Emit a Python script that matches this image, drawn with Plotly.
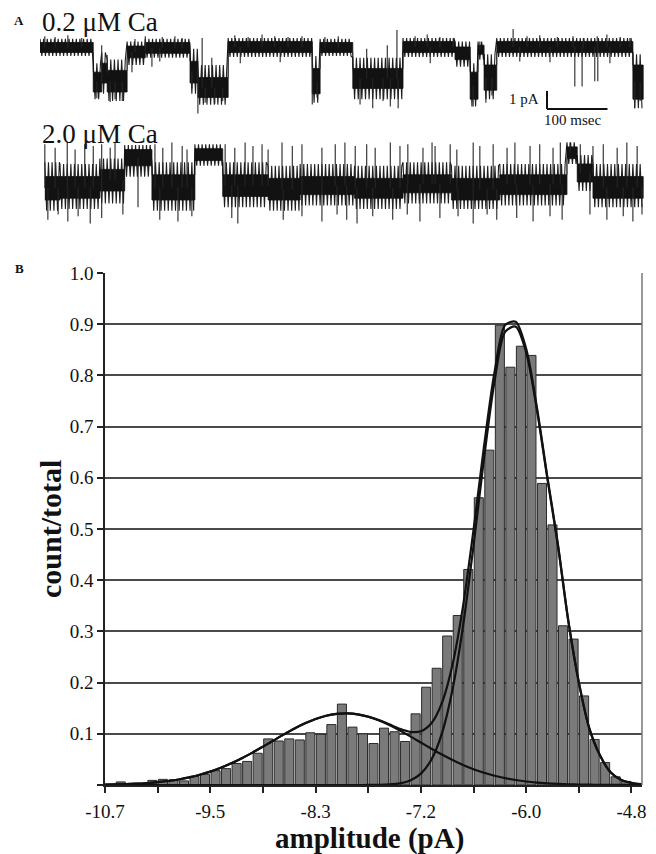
import plotly.graph_objects as go

W, H = 656, 854

# ---------------- Panel B data ----------------
BIN_START = -10.7          # pA, left edge of first bin
BIN_WIDTH = 0.12           # pA
HIST_VALUES = [0.0, 0.006, 0.003, 0.003, 0.009, 0.011, 0.010, 0.008, 0.017, 0.021,
               0.028, 0.032, 0.042, 0.046, 0.062, 0.090, 0.086, 0.090, 0.088, 0.102,
               0.099, 0.118, 0.158, 0.113, 0.100, 0.081, 0.111, 0.104, 0.085, 0.139,
               0.191, 0.228, 0.291, 0.331, 0.421, 0.561, 0.654, 0.898, 0.816, 0.857,
               0.839, 0.589, 0.508, 0.311, 0.285, 0.174, 0.089, 0.044, 0.016, 0.007,
               0.003]
# fitted component curves sampled at bin edges
FIT_LOW = [0.0007, 0.0011, 0.0017, 0.0025, 0.0038, 0.0055, 0.0078, 0.0108, 0.0148, 0.0199,
           0.0261, 0.0336, 0.0423, 0.0522, 0.0632, 0.0749, 0.0869, 0.0989, 0.1103, 0.1205,
           0.1290, 0.1353, 0.1390, 0.1400, 0.1381, 0.1334, 0.1264, 0.1173, 0.1066, 0.0950,
           0.0829, 0.0709, 0.0594, 0.0488, 0.0392, 0.0309, 0.0239, 0.0181, 0.0134, 0.0097,
           0.0069, 0.0048, 0.0033, 0.0022, 0.0014, 0.0009, 0.0006, 0.0004, 0.0002, 0.0001,
           0.0001, 0.0]
FIT_HIGH = [0.0] * 25 + [0.0001, 0.0003, 0.0011, 0.0032, 0.0089, 0.0221, 0.0496, 0.1009,
                         0.1859, 0.3098, 0.4674, 0.6383, 0.7889, 0.8850, 0.8953, 0.8450,
                         0.7350, 0.6000, 0.4700, 0.3200, 0.2000, 0.1100, 0.0580, 0.0250,
                         0.0100, 0.0040, 0.0010]
X_TICK_LABELS = ["-10.7", "-9.5", "-8.3", "-7.2", "-6.0", "-4.8"]
Y_TICK_LABELS = ["", "0.1", "0.2", "0.3", "0.4", "0.5", "0.6", "0.7", "0.8", "0.9", "1.0"]

# ---------------- Panel A data ----------------
# segments: (start ms, end ms, core high, core low, envelope high, envelope low) in pA
TRACE1_SEGMENTS = [
    (0, 88, 0.25, -0.30, 0.45, -0.50), (88, 102, -1.4, -2.5, -0.9, -2.9),
    (102, 111, -0.9, -2.0, -0.3, -2.6), (111, 144, -1.3, -2.5, -0.7, -3.0),
    (144, 174, 0.05, -0.6, 0.3, -1.0), (174, 248, 0.25, -0.35, 0.45, -0.6),
    (248, 261, -0.8, -2.0, -0.1, -2.6), (261, 311, -1.7, -2.8, -1.0, -3.2),
    (311, 450, 0.30, -0.30, 0.5, -0.55), (450, 463, -1.2, -2.6, -0.5, -3.1),
    (463, 517, 0.25, -0.30, 0.45, -0.5), (517, 600, -1.2, -2.3, -0.6, -2.9),
    (600, 686, 0.30, -0.30, 0.5, -0.55), (686, 711, 0.0, -0.7, 0.3, -1.1),
    (711, 724, -1.4, -2.9, -0.9, -3.3), (724, 734, 0.1, -0.4, 0.3, -0.7),
    (734, 755, -1.0, -2.4, -0.4, -2.9), (755, 980, 0.30, -0.30, 0.5, -0.55),
    (980, 997, -1.0, -2.9, -0.4, -3.4),
]
TRACE1_SPIKES = [
    (8, 0.6), (25, 0.55), (46, 0.65), (69, 0.5), (94, -2.85), (102, 0.1), (111, -0.45),
    (116, -3.05), (124, -2.9), (136, -3.0), (152, -1.4), (157, 0.45), (174, 0.6),
    (185, -1.1), (198, -0.8), (202, 0.55), (223, 0.6), (235, 0.5), (251, -2.3),
    (261, -3.7), (268, 0.5), (273, -3.1), (284, -0.6), (289, -3.15), (302, -3.0),
    (322, 0.65), (331, -0.9), (344, 0.55), (367, 0.7), (388, 0.6), (397, -0.85),
    (410, 0.55), (433, 0.6), (450, -3.2), (458, -2.8), (471, 0.55), (493, 0.6),
    (529, -3.2), (540, -0.1), (550, -3.4), (567, -3.0), (574, 0.1), (579, -3.3),
    (590, 0.95), (592, -3.4), (620, 0.6), (640, 0.7), (645, -0.9), (661, 0.55),
    (683, 0.5), (716, -3.3), (727, 0.3), (737, -3.1), (747, -2.7), (782, 1.0),
    (793, -0.8), (805, 0.6), (826, 0.65), (843, -0.85), (855, 0.55), (881, 0.6),
    (884, -2.2), (896, -2.2), (898, 0.5), (917, -1.9), (921, 0.6), (922, -1.9),
    (937, 0.7), (942, -0.9), (959, 0.55), (975, 0.5), (983, -3.4), (992, -3.0),
]
TRACE2_SEGMENTS = [
    (8, 33, -1.2, -2.5, -0.4, -3.1), (33, 99, -1.2, -2.4, -0.5, -3.0),
    (99, 140, -0.8, -2.0, -0.2, -2.7), (140, 185, 0.3, -0.6, 0.55, -1.2),
    (185, 256, -1.1, -2.5, -0.4, -3.1), (256, 302, 0.35, -0.3, 0.6, -0.6),
    (302, 377, -1.1, -2.3, -0.4, -2.9), (377, 430, -1.3, -2.5, -0.6, -3.1),
    (430, 520, -1.2, -2.2, -0.5, -2.8), (520, 600, -1.3, -2.4, -0.6, -3.0),
    (600, 680, -1.1, -2.1, -0.4, -2.7), (680, 760, -1.3, -2.5, -0.6, -3.0),
    (760, 871, -1.1, -2.2, -0.5, -2.8), (871, 888, 0.45, -0.2, 0.7, -0.5),
    (888, 914, -0.5, -1.5, 0.0, -2.0), (914, 997, -1.2, -2.4, -0.5, -2.9),
]
TRACE2_SPIKES = [
    (8, 0.6), (13, -3.6), (25, 0.4), (30, -3.3), (45, 0.7), (46, -3.7), (58, 0.3),
    (63, -3.4), (74, 0.6), (83, -3.8), (88, 0.5), (102, 0.6), (102, -3.5), (116, 0.4),
    (124, 0.7), (137, -3.3), (162, -2.9), (190, 0.6), (198, -3.6), (203, 0.4),
    (218, 0.7), (228, -3.7), (235, 0.5), (243, 0.3), (251, -3.4), (306, 0.6),
    (317, -3.5), (322, 0.4), (327, -3.8), (339, 0.7), (352, 0.5), (367, 0.6),
    (377, 0.3), (400, 0.7), (402, -3.6), (417, 0.5), (433, 0.6), (433, -3.4),
    (466, 0.4), (466, -3.7), (488, 0.6), (491, -3.3), (504, 0.7), (507, -3.6),
    (521, 0.5), (524, -3.8), (540, 0.6), (550, -3.4), (554, 0.4), (579, 0.7),
    (583, -3.6), (595, 0.5), (607, -3.3), (608, 0.6), (628, -3.7), (633, 0.4),
    (648, 0.7), (653, 0.5), (661, -3.5), (678, 0.6), (689, 0.3), (691, -3.4),
    (716, 0.7), (716, -3.8), (727, 0.5), (739, -3.3), (749, 0.6), (755, -3.6),
    (772, 0.4), (785, 0.7), (788, -3.5), (810, 0.5), (815, -3.7), (826, 0.6),
    (843, -3.4), (848, 0.4), (860, 0.7), (863, -3.6), (876, 0.7), (893, 0.6),
    (909, -3.3), (914, 0.5), (931, 0.6), (937, -3.6), (954, 0.4), (964, -3.4),
    (970, 0.7), (980, -3.7), (987, 0.5), (995, -3.3),
]
TRACE_LABELS = ["0.2 μM Ca", "2.0 μM Ca"]
SCALE_BAR = dict(t0=838, dt=100, top=-2.44, dpA=1.0)


def px_x(p):
    return p / W


def px_y(p):
    return 1 - p / H


def band_polygon(segs):
    xs, ys = [], []
    for s in segs:
        xs += [s[0], s[1]]
        ys += [s[2], s[2]]
    for s in reversed(segs):
        xs += [s[1], s[0]]
        ys += [s[3], s[3]]
    return xs, ys


def hatch_path(segs, step=3.0):
    xs, ys = [], []
    for (t0, t1, chi, clo, ehi, elo) in segs:
        t, k = t0, 0
        while t < t1:
            xs.append(t)
            ys.append(ehi if k % 2 == 0 else elo)
            t += step
            k += 1
    return xs, ys


def spike_path(segs, spikes):
    xs, ys = [], []
    for (t, v) in spikes:
        base = None
        for s in segs:
            if s[0] <= t <= s[1]:
                base = (s[2] + s[3]) / 2
                break
        if base is None:
            continue
        xs += [t, t, None]
        ys += [base, v, None]
    return xs, ys


fig = go.Figure()

# ---- Panel A traces ----
for segs, spikes, yax in [(TRACE1_SEGMENTS, TRACE1_SPIKES, "y2"),
                          (TRACE2_SEGMENTS, TRACE2_SPIKES, "y3")]:
    hx, hy = hatch_path(segs)
    fig.add_trace(go.Scatter(x=hx, y=hy, mode="lines", xaxis="x2", yaxis=yax,
                             line=dict(color="#1e1e1e", width=1.1, simplify=False),
                             hoverinfo="skip", showlegend=False))
    bx, by = band_polygon(segs)
    fig.add_trace(go.Scatter(x=bx, y=by, mode="lines", xaxis="x2", yaxis=yax,
                             fill="toself", fillcolor="#121212",
                             line=dict(color="#121212", width=0.8),
                             hoverinfo="skip", showlegend=False))
    sx, sy = spike_path(segs, spikes)
    fig.add_trace(go.Scatter(x=sx, y=sy, mode="lines", xaxis="x2", yaxis=yax,
                             line=dict(color="#262626", width=1.1, simplify=False),
                             hoverinfo="skip", showlegend=False))

# ---- Panel B histogram ----
centers = [BIN_START + BIN_WIDTH * (i + 0.5) for i in range(len(HIST_VALUES))]
edges = [BIN_START + BIN_WIDTH * k for k in range(len(FIT_LOW))]
fig.add_trace(go.Bar(x=centers, y=HIST_VALUES, width=BIN_WIDTH * 0.86,
                     marker=dict(color="#7a7a7a", line=dict(color="#2a2a2a", width=1)),
                     showlegend=False))
fit_sum = [a + b for a, b in zip(FIT_LOW, FIT_HIGH)]
for ys in (FIT_LOW, FIT_HIGH, fit_sum):
    fig.add_trace(go.Scatter(x=edges, y=ys, mode="lines",
                             line=dict(color="#111111", width=2.2, shape="spline", smoothing=0.8),
                             showlegend=False, hoverinfo="skip"))

tickvals_x = [BIN_START + 0.6 * k for k in range(11)]
ticktext_x = [X_TICK_LABELS[k // 2] if k % 2 == 0 else "" for k in range(11)]

serif = "Liberation Serif, Times New Roman, serif"

fig.update_layout(
    width=W, height=H,
    margin=dict(l=0, r=0, t=0, b=0, autoexpand=False),
    paper_bgcolor="white", plot_bgcolor="white",
    font=dict(family=serif, color="#111111"),
    xaxis=dict(domain=[px_x(105), px_x(642)], automargin=False,
               range=[BIN_START, BIN_START + BIN_WIDTH * 51],
               tickmode="array", tickvals=tickvals_x, ticktext=ticktext_x,
               ticks="outside", ticklen=6, tickwidth=1.5, tickcolor="#222",
               showline=True, linecolor="#222", linewidth=1.5, mirror=False,
               showgrid=False, zeroline=False, ticklabelstandoff=2,
               tickfont=dict(size=19, family=serif, color="#111")),
    yaxis=dict(domain=[px_y(785), px_y(273)], range=[0, 1.0], automargin=False,
               tickmode="array", tickvals=[i / 10 for i in range(11)], ticktext=Y_TICK_LABELS,
               ticks="outside", ticklen=6, tickwidth=1.5, tickcolor="#222",
               showline=True, linecolor="#222", linewidth=1.5, mirror=False,
               showgrid=True, gridcolor="#4a4a4a", gridwidth=1.5, zeroline=False,
               tickfont=dict(size=19, family=serif, color="#111")),
    xaxis2=dict(domain=[px_x(40), px_x(645)], range=[0, 1000], visible=False,
                anchor="y2", automargin=False),
    yaxis2=dict(domain=[px_y(115), px_y(25)], range=[-3.778, 1.222], visible=False,
                anchor="x2", automargin=False),
    yaxis3=dict(domain=[px_y(230), px_y(130)], range=[-4.167, 1.389], visible=False,
                anchor="x2", automargin=False),
)

# right border of plot area
fig.add_shape(type="line", xref="paper", yref="paper",
              x0=px_x(642), x1=px_x(642), y0=px_y(785), y1=px_y(273),
              line=dict(color="#777", width=1.5))

# scale bar (panel A, trace 1 coordinates)
sb = SCALE_BAR
fig.add_shape(type="line", xref="x2", yref="y2", x0=sb["t0"], x1=sb["t0"],
              y0=sb["top"], y1=sb["top"] - sb["dpA"], line=dict(color="#111", width=2))
fig.add_shape(type="line", xref="x2", yref="y2", x0=sb["t0"], x1=sb["t0"] + sb["dt"],
              y0=sb["top"] - sb["dpA"], y1=sb["top"] - sb["dpA"], line=dict(color="#111", width=2))


def ann(text, x, y, size, bold=False, xanchor="center", yanchor="middle", angle=0):
    fig.add_annotation(text=("<b>%s</b>" % text) if bold else text,
                       x=px_x(x), y=px_y(y), xref="paper", yref="paper",
                       xanchor=xanchor, yanchor=yanchor, showarrow=False, textangle=angle,
                       font=dict(family=serif, size=size, color="#111"))


ann("A", 19, 20, 13, bold=True)
ann("B", 19, 268, 13, bold=True)
ann(TRACE_LABELS[0], 40, 22, 27, xanchor="left")
ann(TRACE_LABELS[1], 40, 134, 27, xanchor="left")
ann("1 pA", 541, 99, 15, xanchor="right")
ann("100 msec", 542, 120, 15, xanchor="left")
ann("count/total", 50, 529, 30, bold=True, angle=-90)
ann("amplitude (pA)", 370, 838, 29, bold=True)

fig.write_html("out.html")
